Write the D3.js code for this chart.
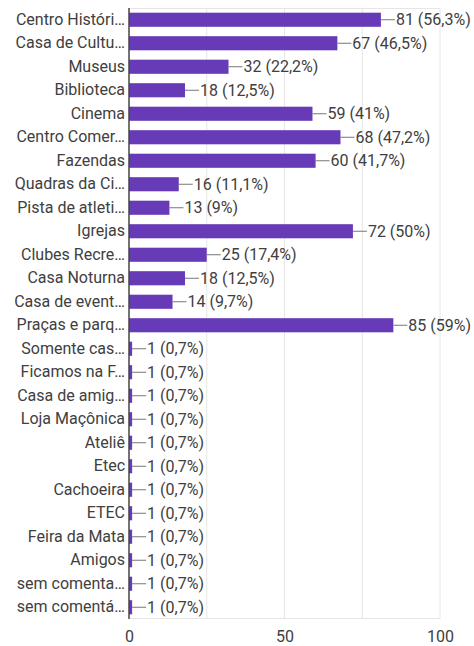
<!DOCTYPE html>
<html>
<head>
<meta charset="utf-8">
<script src="https://cdn.jsdelivr.net/npm/d3@7"></script>
<style>
  html, body { margin: 0; padding: 0; background: #fff; }
  #chart-wrapper { width: 474px; height: 646px; }
</style>
</head>
<body>
<div id="chart-wrapper"></div>
<script>
// Data
const categories = [
  "Centro Históri…", "Casa de Cultu…", "Museus", "Biblioteca", "Cinema",
  "Centro Comer…", "Fazendas", "Quadras da Ci…", "Pista de atleti…", "Igrejas",
  "Clubes Recre…", "Casa Noturna", "Casa de event…", "Praças e parq…", "Somente cas…",
  "Ficamos na F…", "Casa de amig…", "Loja Maçônica", "Ateliê", "Etec",
  "Cachoeira", "ETEC", "Feira da Mata", "Amigos", "sem comenta…", "sem comentá…"
]
const counts = [81, 67, 32, 18, 59, 68, 60, 16, 13, 72, 25, 18, 14, 85, 1, 1, 1, 1, 1, 1, 1, 1, 1, 1, 1, 1]
const percents = ["56,3", "46,5", "22,2", "12,5", "41", "47,2", "41,7", "11,1", "9", "50", "17,4", "12,5", "9,7", "59",
  "0,7", "0,7", "0,7", "0,7", "0,7", "0,7", "0,7", "0,7", "0,7", "0,7", "0,7", "0,7"]
const xTicks = [0, 50, 100]
const xGrid = [25, 50, 75, 100]

// Configs
const config = {
  bar: "#673ab7",
  text: "#404040",
  grid: "#e6e6e6",
  axis: "#444",
  font: "Roboto, 'Noto Sans', sans-serif",
  fontSize: 16
}

const width = 474
const height = 646
const margin = {top: 8, left: 129, right: 34, bottom: 27}

const data = categories.map((c, i) => ({label: c, value: counts[i], pct: percents[i]}))

const svg = d3.select("#chart-wrapper")
  .append("svg")
  .attr("width", width)
  .attr("height", height)

const xScale = d3.scaleLinear().domain([0, 100]).range([margin.left, width - margin.right])
const yScale = d3.scaleBand().domain(categories).range([margin.top, height - margin.bottom]).paddingInner(0.4).paddingOuter(0.2)

// Grid frame
svg.append("g")
  .selectAll("line")
  .data(xGrid)
  .join("line")
  .attr("x1", d => xScale(d)).attr("x2", d => xScale(d))
  .attr("y1", margin.top).attr("y2", height - margin.bottom)
  .attr("stroke", config.grid)
  .attr("stroke-width", 1)
svg.append("line")
  .attr("x1", xScale(0)).attr("x2", xScale(100))
  .attr("y1", margin.top + 0.5).attr("y2", margin.top + 0.5)
  .attr("stroke", config.grid)
svg.append("line")
  .attr("x1", xScale(0)).attr("x2", xScale(100))
  .attr("y1", height - margin.bottom - 0.5).attr("y2", height - margin.bottom - 0.5)
  .attr("stroke", config.grid)

// Bars
svg.append("g")
  .selectAll("rect")
  .data(data)
  .join("rect")
  .attr("x", xScale(0))
  .attr("y", d => yScale(d.label))
  .attr("width", d => Math.max(xScale(d.value) - xScale(0), 3))
  .attr("height", yScale.bandwidth())
  .attr("fill", config.bar)

// Value labels with connector
const vl = svg.append("g")
  .selectAll("g")
  .data(data)
  .join("g")
  .attr("transform", d => `translate(${Math.max(xScale(d.value), xScale(0) + 3)},${yScale(d.label) + yScale.bandwidth() / 2})`)
vl.append("line")
  .attr("x1", 0).attr("x2", 14)
  .attr("y1", 0).attr("y2", 0)
  .attr("stroke", "#777")
  .attr("stroke-width", 1)
vl.append("text")
  .attr("x", 15)
  .attr("dy", "0.35em")
  .attr("fill", config.text)
  .attr("font-size", config.fontSize)
  .attr("font-family", config.font)
  .text(d => `${d.value} (${d.pct}%)`)

// Y axis
const yAxis = svg.append("g")
  .attr("transform", `translate(${xScale(0)},0)`)
  .call(d3.axisLeft(yScale).tickSizeInner(0).tickSizeOuter(0).tickPadding(4))
yAxis.select(".domain").attr("stroke", config.axis).attr("stroke-width", 1.5)
  .attr("d", `M0,${margin.top}V${height - margin.bottom}`)
yAxis.selectAll("text")
  .attr("fill", config.text)
  .attr("font-size", config.fontSize)
  .attr("font-family", config.font)

// X axis labels
const xAxis = svg.append("g")
  .attr("transform", `translate(0,${height - margin.bottom})`)
  .call(d3.axisBottom(xScale).tickValues(xTicks).tickSizeInner(0).tickSizeOuter(0).tickPadding(12))
xAxis.select(".domain").remove()
xAxis.selectAll("text")
  .attr("fill", config.text)
  .attr("font-size", config.fontSize)
  .attr("font-family", config.font)
</script>
</body>
</html>
